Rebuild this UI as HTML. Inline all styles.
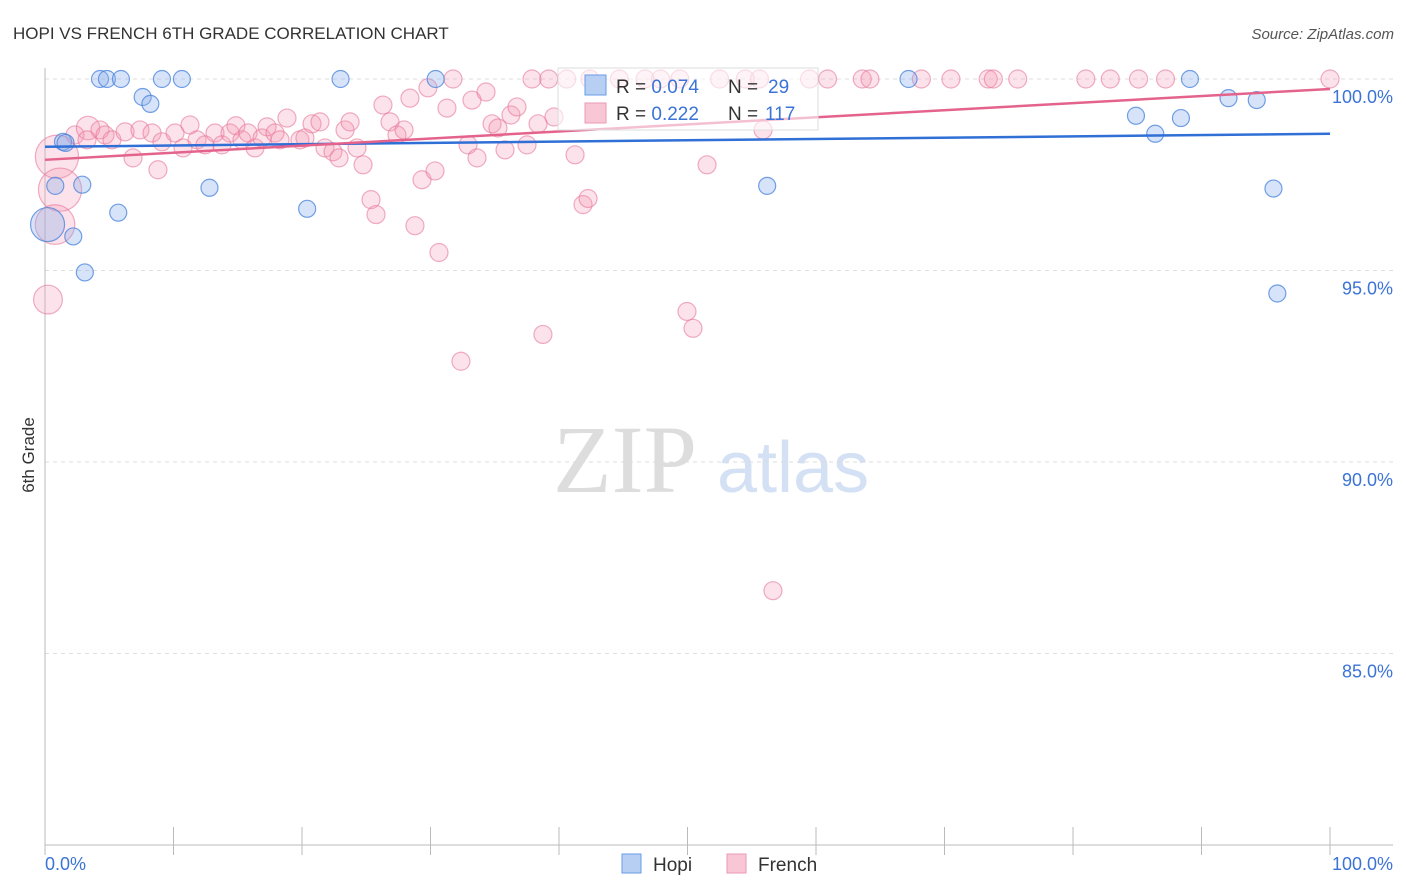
<!DOCTYPE html>
<html><head><meta charset="utf-8"><style>
body{margin:0;background:#fff;font-family:"Liberation Sans",sans-serif;}
svg{display:block}
</style></head><body>
<svg id="c" width="1406" height="892">
<text x="13" y="39" font-size="17" fill="#333">HOPI VS FRENCH 6TH GRADE CORRELATION CHART</text>
<text x="1394" y="39" font-size="15" fill="#555" font-style="italic" text-anchor="end">Source: ZipAtlas.com</text>
<text transform="translate(34,455) rotate(-90)" font-size="17" fill="#333" text-anchor="middle">6th Grade</text>
<g>
<text x="553" y="492" font-family="Liberation Serif,serif" font-size="96" fill="#ddd">ZIP</text>
<text x="717" y="492" font-size="72" fill="#d4e0f4">atlas</text>
</g>
<g id="grid"></g><g id="axes"></g><g id="pts"></g><g id="lines"></g>
<g>
<rect x="558" y="68" width="260" height="62" fill="rgba(255,255,255,0.6)" stroke="#ddd"/>
<rect x="585" y="75" width="21" height="20" fill="#b7cff3" stroke="#6a9be5"/>
<rect x="585" y="103" width="21" height="20" fill="#f9c6d5" stroke="#eb9ab4"/>
<text x="616" y="93" font-size="19" fill="#333">R = <tspan fill="#3b73d6">0.074</tspan><tspan x="728">N = </tspan><tspan x="768" fill="#3b73d6">29</tspan></text>
<text x="616" y="120" font-size="19" fill="#333">R = <tspan fill="#3b73d6"> 0.222</tspan><tspan x="728">N = </tspan><tspan x="765" fill="#3b73d6">117</tspan></text>
</g>
<g>
<rect x="622" y="854" width="19" height="19" fill="#b7cff3" stroke="#6a9be5"/>
<text x="653" y="871" font-size="19" fill="#333">Hopi</text>
<rect x="727" y="854" width="19" height="19" fill="#f9c6d5" stroke="#eb9ab4"/>
<text x="758" y="871" font-size="19" fill="#333">French</text>
</g>
</svg>
<script>
const yTicks=[100,95,90,85];
const yTickLabels=["100.0%","95.0%","90.0%","85.0%"];
const xTickLabels=["0.0%","100.0%"];
const hopiX=[4.28,4.82,5.91,9.1,10.65,23.0,30.4,67.2,89.1,7.6,8.2,92.1,94.3,1.4,1.6,0.8,2.9,12.8,5.7,20.4,56.2,95.6,2.2,3.1,95.9,84.9,86.4,88.4,0.2];
const hopiY=[100,100,100,100,100,100,100,100,100,99.53,99.35,99.5,99.45,98.36,98.33,97.21,97.24,97.16,96.51,96.61,97.21,97.14,95.89,94.95,94.4,99.04,98.57,98.98,96.2];
const hopiW=[1,1,1,1,1,1,1,1,1,1,1,1,1,1,1,1,1,1,1,1,1,1,1,1,1,1,1,1,2];
const frX=[31.75,37.9,39.2,40.6,42.4,44.7,46.7,47.9,49.4,52.5,54.5,55.6,59.5,60.9,63.6,64.2,68.2,70.5,73.4,73.8,75.7,81.0,82.9,85.1,87.2,100,
0.93,1.17,0.78,0.23,2.33,3.35,4.28,3.27,4.67,5.21,6.23,6.85,7.39,8.33,8.79,9.1,10.12,10.74,11.28,11.83,12.45,13.23,13.77,14.4,14.86,15.33,15.8,16.34,16.89,17.28,17.9,18.29,18.83,19.84,20.23,20.78,21.4,21.79,22.41,22.88,23.35,23.74,24.28,24.75,25.37,25.76,26.3,26.85,27.39,27.94,28.4,28.79,29.34,29.8,30.35,30.66,31.28,32.37,32.92,33.23,33.62,34.32,34.79,35.25,35.8,36.26,36.73,37.51,38.37,38.75,39.61,41.25,41.87,42.26,49.96,50.43,51.52,55.88,56.65];
const frY=[100,100,100,100,100,100,100,100,100,100,100,100,100,100,100,100,100,100,100,100,100,100,100,100,100,100,
97.97,97.11,96.2,94.24,98.54,98.72,98.67,98.41,98.54,98.41,98.62,97.94,98.67,98.59,97.63,98.36,98.59,98.2,98.8,98.41,98.28,98.59,98.28,98.59,98.78,98.41,98.59,98.2,98.46,98.75,98.59,98.41,98.98,98.41,98.46,98.83,98.88,98.2,98.1,97.94,98.67,98.88,98.2,97.76,96.85,96.46,99.32,98.88,98.54,98.67,99.5,96.17,97.37,99.77,97.6,95.47,99.24,92.63,98.28,99.45,97.94,99.66,98.83,98.72,98.15,99.06,99.27,98.28,98.83,93.33,99.01,98.02,96.72,96.88,93.93,93.49,97.76,98.67,86.64];
const frW=[];for(let i=0;i<frX.length;i++)frW.push(1);
frW[26]=2.4;frW[27]=2.4;frW[28]=2.2;frW[29]=1.6;frW[31]=1.3;
const hopiTrend=[98.23,98.57];
const frTrend=[97.89,99.74];

const NS="http://www.w3.org/2000/svg";
const X0=45,X1=1330,YT=79,YB=845,YMIN=80,YMAX=100;
const sx=v=>X0+(v/100)*(X1-X0);
const sy=v=>YT+(YMAX-v)/(YMAX-YMIN)*(YB-YT);
function mk(tag,attrs,parent){const e=document.createElementNS(NS,tag);for(const k in attrs)e.setAttribute(k,attrs[k]);parent.appendChild(e);return e;}
const grid=document.getElementById('grid'),axes=document.getElementById('axes'),pts=document.getElementById('pts'),lines=document.getElementById('lines');
yTicks.forEach((t,i)=>{
 const l=mk('line',{x1:X0,x2:1393,y1:sy(t),y2:sy(t),stroke:'#ddd','stroke-dasharray':'4,4'},grid);
 
 
 const tx=mk('text',{x:1393,y:sy(t)+24,'font-size':18,fill:'#3b73d6','text-anchor':'end'},axes);
 tx.textContent=yTickLabels[i];
 
 
});
const ax=mk('line',{x1:X0,x2:1393,y1:YB,y2:YB,stroke:'#bbb'},axes);


const ay=mk('line',{x1:X0,x2:X0,y1:68,y2:YB,stroke:'#bbb'},axes);


for(let i=0;i<=10;i++){
 const t=mk('line',{x1:sx(i*10),x2:sx(i*10),y1:YB-18,y2:YB+10,stroke:'#bbb'},axes);
 
 
}
[[0,'start',45],[100,'end',1393]].forEach((d,i)=>{
 const tx=mk('text',{x:d[2],y:870,'font-size':18,fill:'#3b73d6','text-anchor':d[1]},axes);
 tx.textContent=xTickLabels[i];
 
 
});
frX.forEach((v,i)=>{
 const c=mk('circle',{cx:sx(v),cy:sy(frY[i]),r:9*frW[i],fill:'rgba(244,150,180,0.28)',stroke:'rgba(230,120,155,0.6)','stroke-width':1.2},pts);
 
 
});
hopiX.forEach((v,i)=>{
 const c=mk('circle',{cx:sx(v),cy:sy(hopiY[i]),r:8.5*hopiW[i],fill:'rgba(140,175,235,0.35)',stroke:'rgba(70,130,220,0.75)','stroke-width':1.2},pts);
 
 
});
const lb=mk('line',{x1:sx(0),x2:sx(100),y1:sy(hopiTrend[0]),y2:sy(hopiTrend[1]),stroke:'#2f6fd6','stroke-width':2.5},lines);


const lp=mk('line',{x1:sx(0),x2:sx(100),y1:sy(frTrend[0]),y2:sy(frTrend[1]),stroke:'#e4638c','stroke-width':2.5},lines);


</script>
</body></html>
